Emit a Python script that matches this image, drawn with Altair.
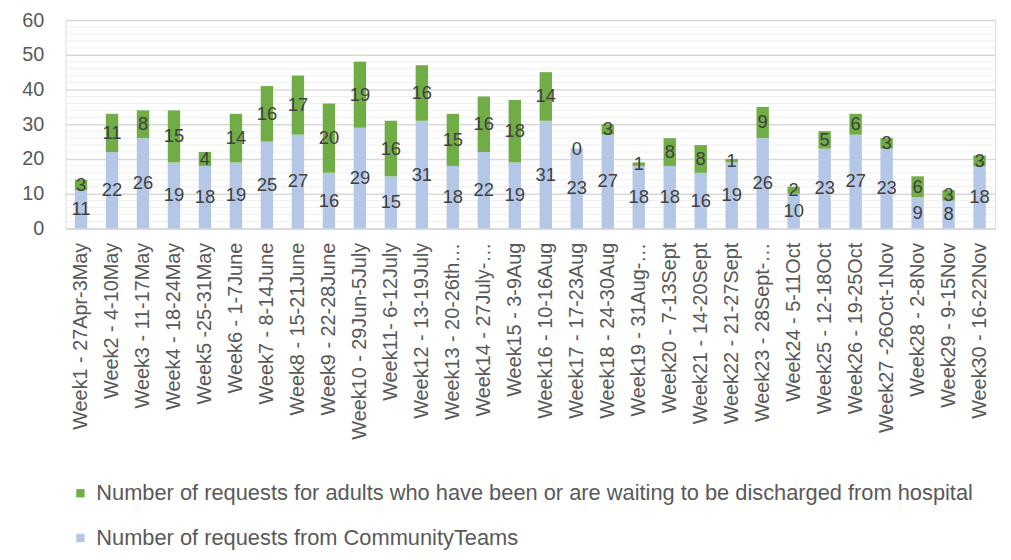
import altair as alt
import pandas as pd

weeks = [
    "Week1 - 27Apr-3May", "Week2 - 4-10May", "Week3 - 11-17May", "Week4 - 18-24May",
    "Week5 -25-31May", "Week6 - 1-7June", "Week7 - 8-14June", "Week8 - 15-21June",
    "Week9 - 22-28June", "Week10 - 29Jun-5July", "Week11- 6-12July", "Week12 - 13-19July",
    "Week13 - 20-26th…", "Week14 - 27July-…", "Week15 - 3-9Aug", "Week16 - 10-16Aug",
    "Week17 - 17-23Aug", "Week18 - 24-30Aug", "Week19 - 31Aug-…", "Week20 - 7-13Sept",
    "Week21 - 14-20Sept", "Week22 - 21-27Sept", "Week23 - 28Sept-…", "Week24 - 5-11Oct",
    "Week25 - 12-18Oct", "Week26 - 19-25Oct", "Week27 -26Oct-1Nov", "Week28 - 2-8Nov",
    "Week29 - 9-15Nov", "Week30 - 16-22Nov",
]
community = [11, 22, 26, 19, 18, 19, 25, 27, 16, 29, 15, 31, 18, 22, 19, 31, 23, 27, 18, 18,
             16, 19, 26, 10, 23, 27, 23, 9, 8, 18]
hospital = [3, 11, 8, 15, 4, 14, 16, 17, 20, 19, 16, 16, 15, 16, 18, 14, 0, 3, 1, 8,
            8, 1, 9, 2, 5, 6, 3, 6, 3, 3]

y_ticks = [0, 10, 20, 30, 40, 50, 60]
y_minor = [2, 4, 6, 8, 12, 14, 16, 18, 22, 24, 26, 28, 32, 34, 36, 38, 42, 44, 46, 48, 52, 54, 56, 58]

s_hosp = "Number of requests for adults who have been or are waiting to be discharged from hospital"
s_comm = "Number of requests from CommunityTeams"

rows = []
for w, c, h in zip(weeks, community, hospital):
    rows.append({"week": w, "series": s_comm, "value": c, "ord": 0})
    rows.append({"week": w, "series": s_hosp, "value": h, "ord": 1})
df = pd.DataFrame(rows)

FONT = "Liberation Sans"
yscale = alt.Scale(domain=[0, 60], nice=False)
yaxis = alt.Axis(values=y_ticks, ticks=False, domain=False, labelOverlap=False,
                 labelFontSize=20, labelColor="#595959", labelFont=FONT,
                 labelPadding=22, gridColor="#D9D9D9", gridWidth=1.5)

minor = alt.Chart(pd.DataFrame({"v": y_minor})).mark_rule(color="#EFEFEF", strokeWidth=1).encode(
    y=alt.Y("v:Q", scale=yscale, axis=yaxis, title=None)
)

base = alt.Chart(df).transform_stack(
    stack="value", groupby=["week"], sort=[alt.SortField("ord", order="ascending")],
    as_=["y0", "y1"]
).transform_calculate(mid="(datum.y0 + datum.y1) / 2")

xaxis = alt.Axis(labelAngle=-90, labelFontSize=20, labelColor="#595959",
                 labelFont=FONT, labelLimit=400, labelPadding=14,
                 ticks=False, domainColor="#D9D9D9", domainWidth=1.5)
xenc = alt.X("week:N", sort=weeks, title=None,
             scale=alt.Scale(paddingInner=0.6, paddingOuter=0.3), axis=xaxis)

bars = base.mark_bar().encode(
    x=xenc,
    y=alt.Y("y0:Q", title=None, scale=yscale, axis=yaxis),
    y2="y1:Q",
    color=alt.Color("series:N", scale=alt.Scale(domain=[s_hosp, s_comm], range=["#70AD47", "#B4C7E7"]),
                    legend=alt.Legend(title=None, orient="none", legendX=4, legendY=466,
                                      direction="vertical", symbolType="square", symbolSize=70,
                                      symbolStrokeWidth=0, labelFontSize=22, labelColor="#595959",
                                      labelFont=FONT, labelLimit=1000, rowPadding=23, labelOffset=5)),
    order=alt.Order("ord:Q"),
)

labels = base.mark_text(fontSize=18.5, color="#404040", font=FONT, baseline="middle").encode(
    x=xenc,
    y=alt.Y("mid:Q", scale=yscale, axis=yaxis, title=None),
    text=alt.Text("value:Q"),
)

chart = alt.layer(minor, bars, labels).properties(
    width=937, height=210,
    autosize=alt.AutoSizeParams(type="none"),
    padding={"left": 58, "top": 10, "right": 8, "bottom": 322},
).configure_view(stroke=None).configure(background="white")

chart.save("out.html", embed_options={"renderer": "svg", "actions": False})
